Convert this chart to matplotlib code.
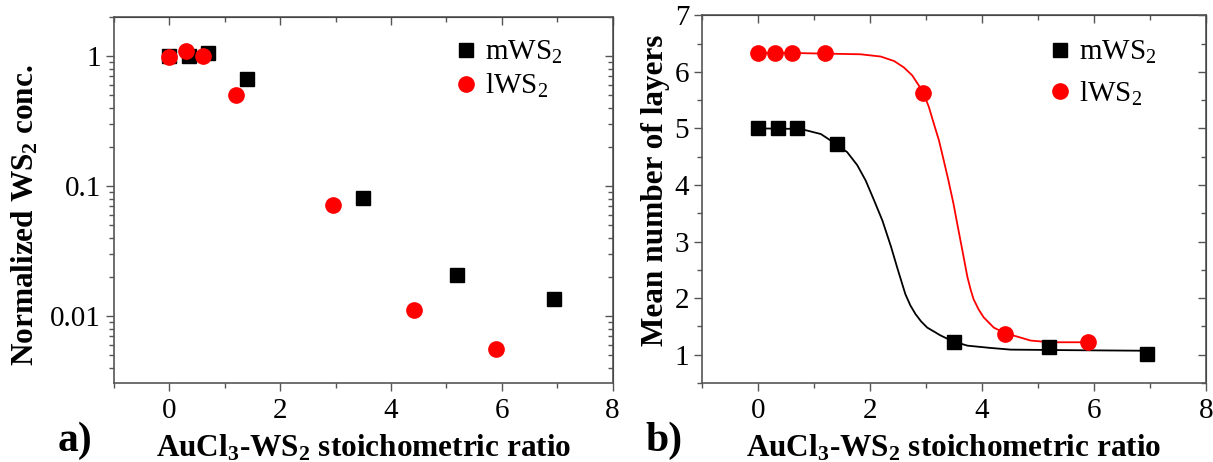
import matplotlib
matplotlib.use('Agg')
import matplotlib.pyplot as plt
from matplotlib.ticker import FuncFormatter, MultipleLocator, LogLocator

plt.rcParams['font.family'] = 'Liberation Serif'
plt.rcParams['mathtext.fontset'] = 'custom'
plt.rcParams['mathtext.rm'] = 'Liberation Serif'
plt.rcParams['mathtext.it'] = 'Liberation Serif:italic'
plt.rcParams['mathtext.bf'] = 'Liberation Serif:bold'

# measured points
x_m = [0, 0.35, 0.7, 1.4, 3.5, 5.2, 6.95]
x_l = [0, 0.3, 0.6, 1.2, 2.95, 4.42, 5.9]
conc_m = [1.0, 1.0, 1.05, 0.665, 0.081, 0.0207, 0.0136]
conc_l = [0.98, 1.09, 1.0, 0.50, 0.072, 0.0112, 0.0056]
layers_m = [5.0, 5.0, 5.0, 4.72, 1.22, 1.13, 1.02]
layers_l = [6.33, 6.33, 6.33, 6.33, 5.62, 1.37, 1.22]

# fit curves
fit_m_x = [0, 0.76, 1.12, 1.38, 1.59, 1.77, 1.92, 2.07, 2.22, 2.37, 2.49, 2.63, 2.72, 2.81, 2.91,
           3.02, 3.26, 3.47, 3.74, 4.15, 4.51, 5.58, 6.95]
fit_m_y = [5.0, 4.99, 4.90, 4.73, 4.58, 4.35, 4.08, 3.73, 3.37, 2.92, 2.52, 2.07, 1.87, 1.72, 1.59,
           1.48, 1.34, 1.24, 1.16, 1.12, 1.09, 1.08, 1.07]
fit_l_x = [0, 0.76, 1.83, 2.19, 2.43, 2.60, 2.75, 2.87, 2.95, 3.05, 3.14, 3.23, 3.31, 3.40, 3.49,
           3.57, 3.65, 3.74, 3.80, 3.85, 3.94, 4.03, 4.21, 4.39, 4.87, 5.22, 5.9]
fit_l_y = [6.33, 6.33, 6.31, 6.27, 6.19, 6.08, 5.94, 5.76, 5.63, 5.38, 5.08, 4.79, 4.46, 4.08, 3.67,
           3.25, 2.84, 2.37, 2.14, 1.98, 1.80, 1.66, 1.48, 1.39, 1.25, 1.22, 1.22]

xlabel = r'AuCl$_\mathbf{3}$-WS$_\mathbf{2}$ stoichometric ratio'
spine_col = '#555555'
tick_fs = 21
lab_fs = 22.5

fig = plt.figure(figsize=(12.13, 4.62), dpi=100)
ax1 = fig.add_axes([0.094, 0.171, 0.411, 0.792])
ax2 = fig.add_axes([0.579, 0.171, 0.415, 0.796])


def style(ax):
    for s in ax.spines.values():
        s.set_color(spine_col)
        s.set_linewidth(1.2)
    ax.tick_params(which='both', direction='out', colors=spine_col, labelcolor='black',
                   labelsize=tick_fs, width=1.0)
    ax.tick_params(which='major', length=6)
    ax.tick_params(which='minor', length=3.5)
    ax.tick_params(axis='x', pad=5)
    ax.set_xlim(-1, 8)
    ax.xaxis.set_major_locator(MultipleLocator(2))
    ax.xaxis.set_minor_locator(MultipleLocator(1))
    top = ax.secondary_xaxis('top')
    right = ax.secondary_yaxis('right')
    for sec in (top, right):
        sec.tick_params(which='both', direction='in', colors=spine_col, width=1.0,
                        labeltop=False, labelright=False)
        sec.tick_params(which='major', length=6)
        sec.tick_params(which='minor', length=3.5)
    top.xaxis.set_major_locator(MultipleLocator(2))
    top.xaxis.set_minor_locator(MultipleLocator(1))
    ax.set_xlabel(xlabel, fontsize=lab_fs, fontweight='bold', labelpad=6)
    return right


# panel a
r1 = style(ax1)
ax1.set_yscale('log')
ax1.set_ylim(0.00305, 2)
ax1.yaxis.set_major_formatter(FuncFormatter(lambda v, p: f'{v:g}'))
ax1.plot(x_m, conc_m, 's', color='black', ms=10, label='mWS$_2$')
ax1.plot(x_l, conc_l, 'o', color='red', ms=11, label='lWS$_2$')
r1.yaxis.set_major_locator(LogLocator(base=10))
r1.yaxis.set_minor_locator(LogLocator(base=10, subs=range(2, 10)))
ax1.set_ylabel(r'Normalized WS$_\mathbf{2}$ conc.', fontsize=lab_fs, fontweight='bold')
ax1.yaxis.set_label_coords(-0.148, 0.46)
ax1.legend(loc='upper left', bbox_to_anchor=(0.685, 0.94), frameon=False, fontsize=21,
           handlelength=0.7, handletextpad=0.3, labelspacing=0.2, borderpad=0, borderaxespad=0)

# panel b
r2 = style(ax2)
ax2.set_ylim(0.5, 7)
ax2.yaxis.set_major_locator(MultipleLocator(1))
ax2.yaxis.set_minor_locator(MultipleLocator(0.5))
r2.yaxis.set_major_locator(MultipleLocator(1))
r2.yaxis.set_minor_locator(MultipleLocator(0.5))
ax2.plot(fit_m_x, fit_m_y, '-', color='black', lw=1.3)
ax2.plot(fit_l_x, fit_l_y, '-', color='red', lw=1.3)
ax2.plot(x_m, layers_m, 's', color='black', ms=10, label='mWS$_2$')
ax2.plot(x_l, layers_l, 'o', color='red', ms=11, label='lWS$_2$')
ax2.set_ylabel('Mean number of layers', fontsize=lab_fs, fontweight='bold')
ax2.yaxis.set_label_coords(-0.064, 0.525)
ax2.legend(loc='upper left', bbox_to_anchor=(0.69, 0.935), frameon=False, fontsize=21,
           handlelength=0.7, handletextpad=0.3, labelspacing=0.45, borderpad=0, borderaxespad=0)

fig.text(0.062, 0.045, 'a)', fontsize=30, fontweight='bold', ha='center', va='center')
fig.text(0.547, 0.045, 'b)', fontsize=30, fontweight='bold', ha='center', va='center')

fig.savefig('out.png', dpi=100)
